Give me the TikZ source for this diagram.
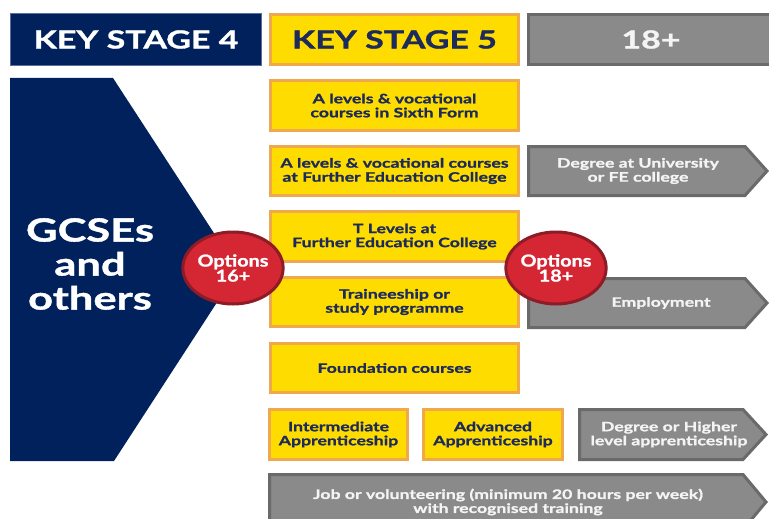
\documentclass[tikz,border=0pt]{standalone}
\usepackage{fontspec}
\setmainfont{Lato}[FakeStretch=1.36, BoldFeatures={FakeBold=1.2}]
\newfontfamily\optfont{Lato}[FakeStretch=1.2, BoldFeatures={FakeBold=1.2}]
\usetikzlibrary{shapes.geometric}
\definecolor{navy}{HTML}{00215B}
\definecolor{navyline}{HTML}{5A6E96}
\definecolor{yel}{HTML}{FFDC00}
\definecolor{yelb}{HTML}{F0A84E}
\definecolor{ytext}{HTML}{1C2A5C}
\definecolor{gry}{HTML}{8A8A8A}
\definecolor{gryb}{HTML}{6A6A6A}
\definecolor{gtext}{HTML}{F4F4F4}
\definecolor{optred}{HTML}{D42633}
\definecolor{optb}{HTML}{8E1C26}
\begin{document}
\begin{tikzpicture}[x=1pt,y=-1pt,
  ybox/.style={fill=yel, draw=yelb, line width=3pt, inner sep=0pt, text=ytext, align=center,
    font=\bfseries\fontsize{13}{14}\selectfont},
  gshape/.style={fill=gry, draw=gryb, line width=3pt, line join=miter},
  gtxt/.style={text=gtext, align=center, inner sep=0pt, font=\bfseries\fontsize{13}{14}\selectfont},
  optc/.style={ellipse, fill=optred, draw=optb, line width=3pt, minimum width=93pt, minimum height=72pt,
    inner sep=0pt, text=white, align=center, font=\optfont\bfseries\fontsize{16.5}{15}\selectfont},
  hdr/.style={minimum height=52pt, inner sep=0pt, font=\bfseries\fontsize{25}{28}\selectfont}]
\useasboundingbox (0,0) rectangle (769,519);
\clip (0,0) rectangle (769,519);
\fill[white] (0,0) rectangle (769,519);
% headers
\node[hdr, fill=navy, draw=navyline, line width=1pt, minimum width=251pt, text=white] (ks4) at (136,39.5) {KEY STAGE 4};
\node[ybox, hdr, minimum width=248pt, minimum height=50pt] (ks5) at (394.5,39.5) {KEY STAGE 5};
\draw[gshape] (528.5,14.5) rectangle (775,64.5);
\node[gtxt, font=\bfseries\fontsize{25}{28}\selectfont] (h18) at (651,39.5) {18+};
% pentagon
\fill[navy] (10,78) -- (113,78) -- (238,270) -- (114,461) -- (10,461) -- cycle;
\node[text=white, align=center, inner sep=0pt, font=\bfseries\fontsize{32}{34}\selectfont] (gcse) at (90,264) {GCSEs\\and\\others};
% yellow boxes
\node[ybox, minimum width=248pt, minimum height=50pt] (b1) at (394.5,105.5) {A levels \& vocational\\courses in Sixth Form};
\node[ybox, minimum width=248pt, minimum height=49pt] (b2) at (394.5,171) {A levels \& vocational courses\\at Further Education College};
\node[ybox, minimum width=248pt, minimum height=50pt] (b3) at (394.5,236.5) {T Levels at\\Further Education College};
\node[ybox, minimum width=248pt, minimum height=49pt] (b4) at (394.5,302) {Traineeship or\\study programme};
\node[ybox, minimum width=248pt, minimum height=49pt] (b5) at (394.5,368) {Foundation courses};
\node[ybox, minimum width=138pt, minimum height=50pt] (b6) at (338.5,434.5) {Intermediate\\Apprenticeship};
\node[ybox, minimum width=139pt, minimum height=50pt] (b7) at (493,434.5) {Advanced\\Apprenticeship};
% gray arrows
\draw[gshape] (528.5,146.5) -- (745,146.5) -- (767,171) -- (745,195.5) -- (528.5,195.5) -- cycle;
\node[gtxt] (g1) at (638,171) {Degree at University\\or FE college};
\draw[gshape] (528.5,278.5) -- (745,278.5) -- (767,303) -- (745,327.5) -- (528.5,327.5) -- cycle;
\node[gtxt] (g2) at (661,303) {Employment};
\draw[gshape] (579.5,409.5) -- (743,409.5) -- (766,434.5) -- (743,459.5) -- (579.5,459.5) -- cycle;
\node[gtxt] (g3) at (669,434.5) {Degree or Higher\\level apprenticeship};
\draw[gshape] (269.5,474.5) -- (743,474.5) -- (766,502) -- (743,529.5) -- (269.5,529.5) -- cycle;
\node[gtxt] (g4) at (508,502) {Job or volunteering (minimum 20 hours per week)\\with recognised training};
% options circles
\node[optc] (o16) at (233,268) {Options\\16+};
\node[optc] (o18) at (556,268) {Options\\18+};
\end{tikzpicture}
\end{document}
